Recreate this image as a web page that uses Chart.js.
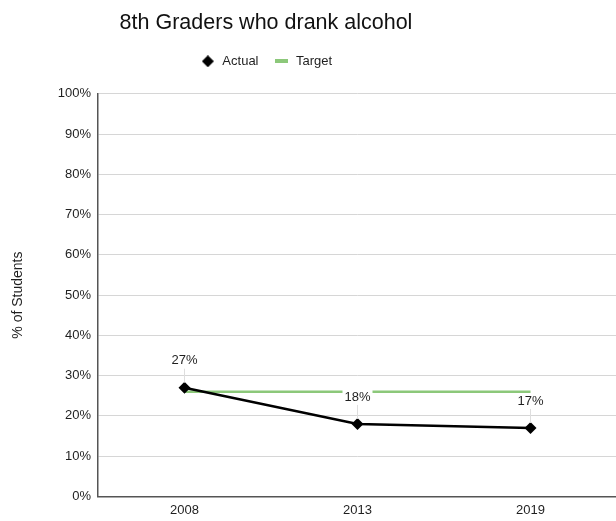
<!DOCTYPE html>
<html>
<head>
<meta charset="utf-8">
<script src="https://cdn.jsdelivr.net/npm/chart.js@4/dist/chart.umd.min.js"></script>
<style>
    html, body { margin: 0; padding: 0; background: #fff; overflow: hidden; }
    #wrap { position: relative; width: 616px; height: 521px; overflow: hidden; }
    /* canvas is offset left so the centred title sits over the left part */
    #chart { position: absolute; left: -91px; top: 0; }
</style>
</head>
<body>
<div id="wrap"><canvas id="chart" width="714" height="521"></canvas></div>
<script>
const years = ["2008", "2013", "2019"];
const actual = [27, 18, 17];
const target = [26, 26, 26];
const yTicks = [0, 10, 20, 30, 40, 50, 60, 70, 80, 90, 100];

const FONT = "'Liberation Sans', Arial, Helvetica, sans-serif";
const INK = "#1f1f1f";
const GREEN = "#8cc87a";

/* ================= LEGEND MARKERS ================= */
function makeMarker(w, h, draw) {
    const c = document.createElement("canvas");
    c.width = w;
    c.height = h;
    draw(c.getContext("2d"));
    return c;
}

const diamondMarker = makeMarker(12, 12, g => {
    g.fillStyle = "#000";
    g.beginPath();
    g.moveTo(6, 0);
    g.lineTo(12, 6);
    g.lineTo(6, 12);
    g.lineTo(0, 6);
    g.closePath();
    g.fill();
});

const barMarker = makeMarker(13, 4, g => {
    g.fillStyle = GREEN;
    g.fillRect(0, 0, 13, 4);
});

/* ================= VALUE LABELS ================= */
const valueLabels = {
    id: "valueLabels",
    afterDatasetsDraw(chart) {
        const ctx = chart.ctx;
        const meta = chart.getDatasetMeta(0);
        ctx.save();
        ctx.font = "13px " + FONT;
        ctx.textAlign = "center";
        ctx.textBaseline = "middle";
        meta.data.forEach((pt, i) => {
            const txt = actual[i] + "%";
            const ty = pt.y - 27;
            // faint leader from label to point
            ctx.strokeStyle = "#dedede";
            ctx.lineWidth = 1;
            ctx.beginPath();
            ctx.moveTo(pt.x, ty + 8);
            ctx.lineTo(pt.x, pt.y - 5);
            ctx.stroke();
            const w = ctx.measureText(txt).width;
            ctx.fillStyle = "#fff";
            ctx.fillRect(pt.x - w / 2 - 2, ty - 7, w + 4, 14);
            ctx.fillStyle = INK;
            ctx.fillText(txt, pt.x, ty);
        });
        ctx.restore();
    }
};

// extra room under the legend
const legendGap = {
    id: "legendGap",
    beforeInit(chart) {
        const fit = chart.legend.fit;
        chart.legend.fit = function () {
            fit.call(this);
            this.height += 16;
        };
    }
};

/* ================= CHART ================= */
new Chart(document.getElementById("chart"), {
    type: "line",
    data: {
        labels: years,
        datasets: [
            {
                label: "Actual",
                data: actual,
                borderColor: "#000",
                backgroundColor: "#000",
                borderWidth: 2.5,
                pointStyle: "rectRot",
                pointRadius: 6,
                pointBackgroundColor: "#000",
                pointBorderWidth: 0,
                tension: 0
            },
            {
                label: "Target",
                data: target,
                borderColor: GREEN,
                backgroundColor: GREEN,
                borderWidth: 2.5,
                pointRadius: 0,
                tension: 0
            }
        ]
    },
    options: {
        responsive: false,
        animation: false,
        layout: { padding: { left: 2, right: 2, top: 0, bottom: -3 } },
        plugins: {
            title: {
                display: true,
                text: "8th Graders who drank alcohol",
                color: "#111",
                font: { family: FONT, size: 21.5, weight: "normal" },
                padding: { top: 10, bottom: 4 }
            },
            legend: {
                labels: {
                    usePointStyle: true,
                    boxHeight: 12,
                    pointStyleWidth: 16,
                    color: INK,
                    font: { family: FONT, size: 13 },
                    padding: 15,
                    generateLabels: chart =>
                        chart.data.datasets.map((ds, i) => ({
                            text: ds.label,
                            datasetIndex: i,
                            pointStyle: i === 0 ? diamondMarker : barMarker,
                            fillStyle: ds.borderColor,
                            strokeStyle: ds.borderColor,
                            lineWidth: 0,
                            fontColor: INK
                        }))
                }
            },
            tooltip: { enabled: false }
        },
        scales: {
            x: {
                offset: true,
                grid: { display: false, drawTicks: false },
                border: { color: "#555", width: 1.5 },
                ticks: {
                    color: INK,
                    font: { family: FONT, size: 13 },
                    padding: 6
                }
            },
            y: {
                min: 0,
                max: 100,
                afterBuildTicks: scale => {
                    scale.ticks = yTicks.map(v => ({ value: v }));
                },
                afterFit: scale => {
                    scale.width = 187;
                },
                grid: { color: "#d6d6d6", lineWidth: 1, drawTicks: false },
                border: { color: "#555", width: 1.5 },
                ticks: {
                    color: INK,
                    font: { family: FONT, size: 13 },
                    padding: 7,
                    callback: v => v + "%"
                },
                title: {
                    display: true,
                    text: "% of Students",
                    color: INK,
                    font: { family: FONT, size: 14 },
                    padding: { top: 98.6, bottom: 0 }
                }
            }
        }
    },
    plugins: [valueLabels, legendGap]
});
</script>
</body>
</html>
